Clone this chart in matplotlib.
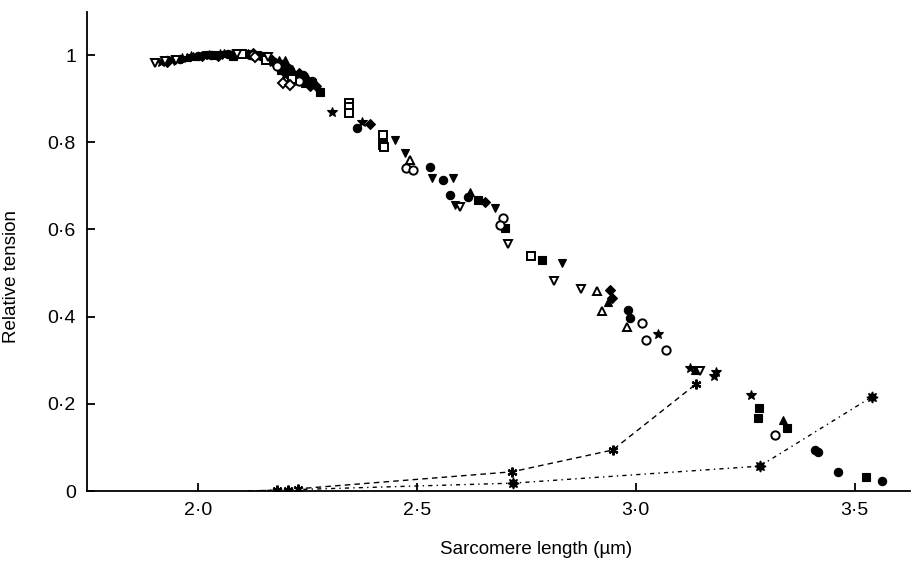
import matplotlib
matplotlib.use("Agg")
import matplotlib.pyplot as plt
from matplotlib.ticker import FixedLocator

plt.rcParams['font.family'] = ['Liberation Sans', 'DejaVu Sans']

# ---- data ----
filled_circle_x = [1.93, 1.96, 2.00, 2.03, 2.07, 2.12, 2.145, 2.175, 2.19, 2.205, 2.21, 2.235, 2.24, 2.26,
                   2.363, 2.530, 2.559, 2.575, 2.616, 2.982, 2.986, 3.409, 3.416, 3.461, 3.562]
filled_circle_y = [0.988, 0.992, 0.998, 1.000, 1.003, 1.000, 0.997, 0.985, 0.980, 0.970, 0.965, 0.950, 0.955, 0.940,
                   0.833, 0.743, 0.713, 0.679, 0.674, 0.415, 0.397, 0.094, 0.089, 0.044, 0.023]

open_circle_x = [2.125, 2.18, 2.23, 2.475, 2.491, 2.696, 2.689, 3.014, 3.023, 3.068, 3.317]
open_circle_y = [1.000, 0.975, 0.940, 0.741, 0.736, 0.626, 0.610, 0.385, 0.346, 0.323, 0.128]

filled_square_x = [2.04, 2.08, 2.15, 2.19, 2.22, 2.245, 2.28, 2.639, 2.701, 2.785, 3.281, 3.279, 3.345, 3.525]
filled_square_y = [1.001, 0.998, 0.998, 0.965, 0.950, 0.935, 0.915, 0.667, 0.603, 0.530, 0.190, 0.167, 0.144, 0.032]

open_square_x = [2.10, 2.155, 2.215, 2.345, 2.345, 2.345, 2.422, 2.422, 2.426, 2.760]
open_square_y = [1.003, 0.990, 0.945, 0.890, 0.881, 0.867, 0.817, 0.794, 0.789, 0.539]

filled_tri_up_x = [1.975, 1.99, 2.06, 2.115, 2.14, 2.185, 2.20, 2.215, 2.25, 2.621, 2.936, 3.135, 3.336]
filled_tri_up_y = [0.995, 0.997, 1.004, 1.004, 1.000, 0.990, 0.990, 0.968, 0.950, 0.686, 0.433, 0.278, 0.163]

open_tri_up_x = [2.484, 2.911, 2.922, 2.979]
open_tri_up_y = [0.759, 0.459, 0.413, 0.376]

filled_tri_down_x = [1.945, 2.02, 2.055, 2.11, 2.135, 2.165, 2.205, 2.24, 2.26, 2.450, 2.473, 2.534,
                     2.582, 2.587, 2.678, 2.831]
filled_tri_down_y = [0.986, 1.000, 1.000, 1.002, 1.000, 0.985, 0.960, 0.940, 0.935, 0.805, 0.775, 0.718,
                     0.718, 0.656, 0.649, 0.523]

open_tri_down_x = [1.902, 1.925, 1.95, 2.09, 2.16, 2.598, 2.708, 2.813, 2.874, 3.146]
open_tri_down_y = [0.982, 0.986, 0.990, 1.003, 0.995, 0.651, 0.567, 0.482, 0.463, 0.275]

filled_diamond_x = [1.93, 2.01, 2.045, 2.08, 2.125, 2.17, 2.19, 2.23, 2.255, 2.27, 2.393, 2.655, 2.941, 2.945]
filled_diamond_y = [0.984, 0.999, 0.999, 1.003, 1.004, 0.990, 0.975, 0.960, 0.930, 0.930, 0.842, 0.663, 0.461, 0.443]

open_diamond_x = [2.13, 2.195, 2.21]
open_diamond_y = [0.995, 0.935, 0.932]

star_x = [1.915, 1.94, 1.965, 1.985, 2.025, 2.05, 2.095, 2.16, 2.20, 2.306, 2.374,
          3.050, 3.123, 3.183, 3.178, 3.263]
star_y = [0.985, 0.989, 0.993, 0.997, 1.000, 1.002, 1.002, 0.990, 0.955, 0.869, 0.846,
          0.360, 0.282, 0.273, 0.264, 0.220]

# passive tension curves (dashed and dash-dot)
passA_x = [2.114, 2.180, 2.205, 2.228, 2.717, 2.947, 3.137]
passA_y = [0.000, 0.002, 0.002, 0.005, 0.044, 0.094, 0.245]
passB_x = [2.114, 2.719, 3.283, 3.539]
passB_y = [0.000, 0.018, 0.057, 0.216]

x_ticks = [2.0, 2.5, 3.0, 3.5]
x_tick_labels = ['2·0', '2·5', '3·0', '3·5']
y_ticks = [0.0, 0.2, 0.4, 0.6, 0.8, 1.0]
y_tick_labels = ['0', '0·2', '0·4', '0·6', '0·8', '1']

# ---- figure ----
fig = plt.figure(figsize=(9.16, 5.61), dpi=100)
ax = fig.add_axes([87/916, 70/561, (910-87)/916, (491-12)/561])

ms = 6
mew = 1.4
filled = dict(linestyle='none', color='black', markersize=ms, markeredgewidth=0.8)
opened = dict(linestyle='none', markerfacecolor='white', markeredgecolor='black',
              markersize=ms, markeredgewidth=mew)

# passive curves
ax.plot(passA_x, passA_y, color='black', lw=1.0, dashes=(4, 3), zorder=1)
ax.plot(passB_x, passB_y, color='black', lw=1.0, dashes=(3, 3, 1, 3), zorder=1)
ax.plot(passA_x[1:], passA_y[1:], linestyle='none', marker=(6, 2, 0), color='black',
        markersize=7, markeredgewidth=1.6, zorder=3)
ax.plot(passB_x[1:], passB_y[1:], linestyle='none', marker=(8, 1, 0), color='black',
        markersize=8, zorder=3)

ax.plot(filled_circle_x, filled_circle_y, marker='o', **filled)
ax.plot(filled_square_x, filled_square_y, marker='s', **filled)
ax.plot(filled_tri_up_x, filled_tri_up_y, marker='^', **filled)
ax.plot(filled_tri_down_x, filled_tri_down_y, marker='v', **filled)
ax.plot(filled_diamond_x, filled_diamond_y, marker='D', **{**filled, 'markersize': 5})
ax.plot(star_x, star_y, marker='*', **{**filled, 'markersize': 7.5})
ax.plot(open_circle_x, open_circle_y, marker='o', **opened)
ax.plot(open_square_x, open_square_y, marker='s', **opened)
ax.plot(open_tri_up_x, open_tri_up_y, marker='^', **opened)
ax.plot(open_tri_down_x, open_tri_down_y, marker='v', **opened)
ax.plot(open_diamond_x, open_diamond_y, marker='D', **{**opened, 'markersize': 5})

ax.set_xlim(1.747, 3.626)
ax.set_ylim(0, 1.099)

ax.xaxis.set_major_locator(FixedLocator(x_ticks))
ax.set_xticklabels(x_tick_labels)
ax.yaxis.set_major_locator(FixedLocator(y_ticks))
ax.set_yticklabels(y_tick_labels)

for s in ['top', 'right']:
    ax.spines[s].set_visible(False)
for s in ['left', 'bottom']:
    ax.spines[s].set_linewidth(1.3)
ax.tick_params(direction='in', length=6, width=1.3, labelsize=14, pad=8)

ax.set_xlabel('Sarcomere length (µm)', fontsize=13.5)
ax.set_ylabel('Relative tension', fontsize=13.5)
ax.xaxis.set_label_coords(0.546, -0.105)
ax.yaxis.set_label_coords(-0.082, 0.447)

fig.savefig('out.png', dpi=100)
